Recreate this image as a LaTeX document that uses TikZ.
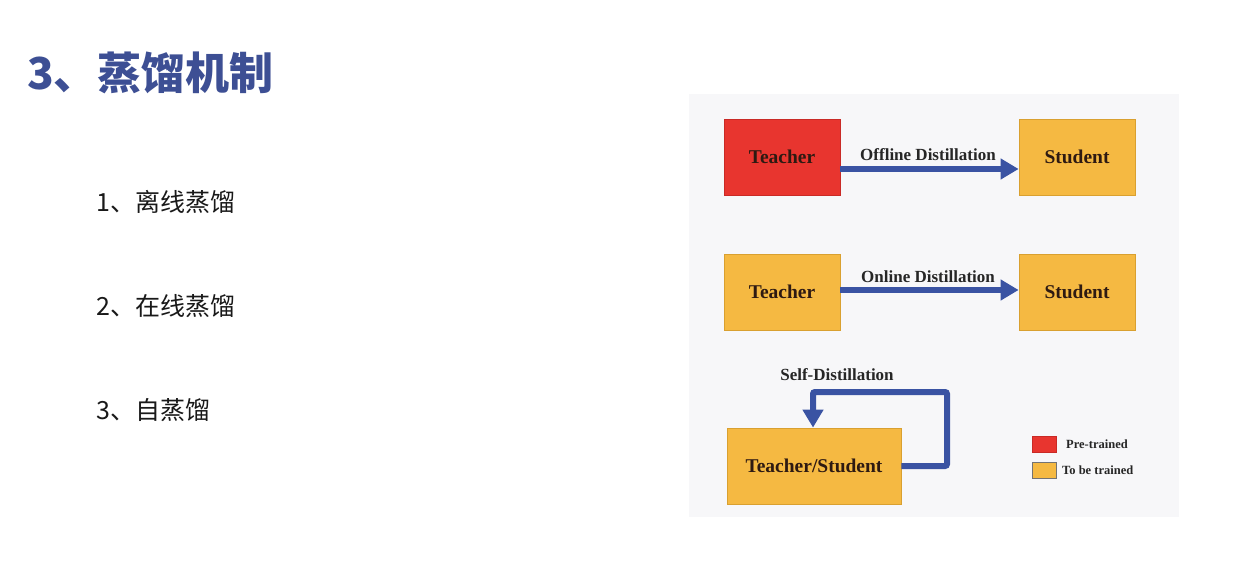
\documentclass[tikz,border=0pt]{standalone}
\usepackage{fontspec}
\setmainfont{Liberation Serif}
\newfontfamily\cjk{Noto Sans CJK SC}
\usetikzlibrary{arrows.meta}
\definecolor{titleblue}{HTML}{3D4F94}
\definecolor{arrowblue}{HTML}{3A53A3}
\definecolor{tred}{HTML}{E8352F}
\definecolor{torange}{HTML}{F5B942}
\definecolor{oedge}{HTML}{D9A030}
\definecolor{redge}{HTML}{C92A26}
\definecolor{panel}{HTML}{F7F7F9}
\definecolor{boxtext}{HTML}{2E1A12}
\tikzset{
  pbox/.style={minimum width=116pt, minimum height=76pt, inner sep=0pt, draw=oedge, line width=0.8pt, fill=torange,
     font=\fontsize{19.5}{21}\selectfont\bfseries, text=boxtext},
  rbox/.style={pbox, fill=tred, draw=redge},
  flow/.style={draw=arrowblue, line width=6pt, -{Triangle[length=18pt,width=20pt]}},
  flowlab/.style={font=\fontsize{17}{19}\selectfont\bfseries, text=black!85},
  legsq/.style={minimum width=24pt, minimum height=16pt, inner sep=0pt, line width=0.6pt},
  leglab/.style={font=\fontsize{12.5}{14}\selectfont\bfseries, anchor=west, inner sep=0pt, text=black!85},
  item/.style={font=\cjk\fontsize{25}{27}\selectfont, anchor=west, inner sep=0pt, text=black!90}
}
\begin{document}
\begin{tikzpicture}[x=1pt,y=-1pt]
\useasboundingbox (0,0) rectangle (1234,564);
\fill[white] (0,0) rectangle (1234,564);
% title and list
\node[anchor=west, inner sep=0pt, font=\cjk\bfseries\fontsize{44}{46}\selectfont, text=titleblue] (title) at (27,73) {3、蒸馏机制};
\node[item] (i1) at (96,202) {1、离线蒸馏};
\node[item] (i2) at (96,306) {2、在线蒸馏};
\node[item] (i3) at (96,410) {3、自蒸馏};
% panel
\fill[panel] (689,94) rectangle (1179,517);
% row 1
\node[rbox] (t1) at (782,157) {Teacher};
\node[pbox] (s1) at (1077,157) {Student};
\draw[flow] ([yshift=-12pt]t1.east) -- ([yshift=-12pt]s1.west);
\node[flowlab] (l1) at (928,155) {Offline Distillation};
% row 2
\node[pbox] (t2) at (782,292) {Teacher};
\node[pbox] (s2) at (1077,292) {Student};
\draw[flow] ([yshift=2pt]t2.east) -- ([yshift=2pt]s2.west);
\node[flowlab] (l2) at (928,277) {Online Distillation};
% self distillation
\node[pbox, minimum width=174pt] (ts) at (814,466) {Teacher/Student};
\coordinate (c1) at (947,466);
\coordinate (c2) at (947,392);
\coordinate (c3) at (813,392);
\draw[flow, rounded corners=2pt] (ts.east) -- (c1) -- (c2) -- (c3) -- (c3 |- ts.north);
\node[flowlab] (l3) at (837,375) {Self-Distillation};
% legend
\node[legsq, fill=tred, draw=redge] (lg1) at (1044,444) {};
\node[leglab] (lt1) at (1066,444) {Pre-trained};
\node[legsq, fill=torange, draw=black!55] (lg2) at (1044,470) {};
\node[leglab] (lt2) at (1062,470) {To be trained};
\end{tikzpicture}
\end{document}
